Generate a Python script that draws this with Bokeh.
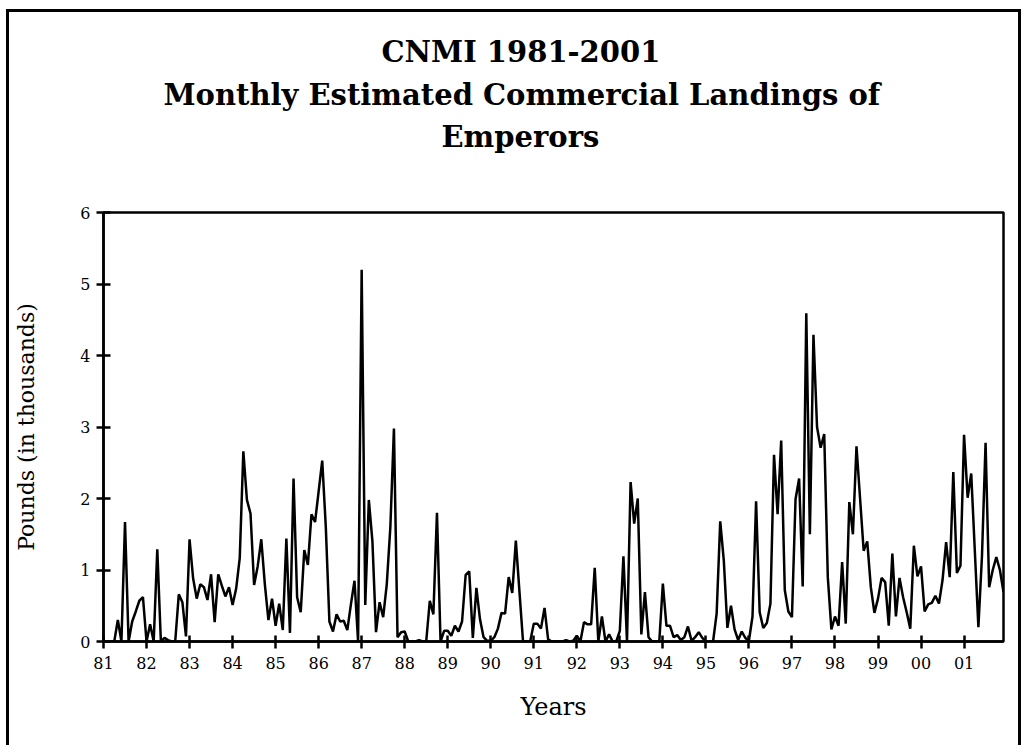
from bokeh.plotting import figure
from bokeh.models import Range1d, FixedTicker, Title
from bokeh.embed import file_html
from bokeh.resources import INLINE

# ---- data (thousands of pounds, monthly) ----
years = list(range(1981, 2002))
year_labels = ["81", "82", "83", "84", "85", "86", "87", "88", "89", "90",
               "91", "92", "93", "94", "95", "96", "97", "98", "99", "00", "01"]
y_ticks = [0, 1, 2, 3, 4, 5, 6]

m1981 = [0, 0, 0, 0, 0.3, 0, 1.67, 0, 0.28, 0.42, 0.57, 0.62]
m1982 = [0, 0.24, 0, 1.29, 0, 0.05, 0.02, 0, 0, 0.66, 0.55, 0.07]
m1983 = [1.43, 0.88, 0.6, 0.8, 0.76, 0.58, 0.94, 0.27, 0.94, 0.78, 0.63, 0.76]
m1984 = [0.51, 0.74, 1.17, 2.66, 1.98, 1.79, 0.79, 1.05, 1.43, 0.8, 0.3, 0.6]
m1985 = [0.22, 0.53, 0.16, 1.44, 0.12, 2.28, 0.62, 0.41, 1.28, 1.07, 1.78, 1.67]
m1986 = [2.1, 2.53, 1.6, 0.28, 0.14, 0.38, 0.28, 0.29, 0.16, 0.52, 0.85, 0]
m1987 = [5.2, 0.51, 1.98, 1.4, 0.13, 0.55, 0.34, 0.8, 1.6, 2.98, 0.06, 0.13]
m1988 = [0.14, 0, 0, 0, 0.02, 0, 0, 0.57, 0.38, 1.8, 0, 0.15]
m1989 = [0.15, 0.08, 0.22, 0.14, 0.28, 0.93, 0.98, 0.05, 0.75, 0.31, 0.06, 0.01]
m1990 = [0.01, 0.06, 0.18, 0.4, 0.39, 0.9, 0.68, 1.41, 0.7, 0, 0, 0]
m1991 = [0.25, 0.25, 0.18, 0.47, 0.03, 0, 0, 0, 0, 0.02, 0, 0.01]
m1992 = [0.08, 0, 0.27, 0.24, 0.24, 1.03, 0, 0.35, 0, 0.1, 0, 0]
m1993 = [0.15, 1.19, 0, 2.23, 1.65, 2.0, 0.1, 0.69, 0.06, 0, 0, 0]
m1994 = [0.81, 0.22, 0.22, 0.06, 0.09, 0.02, 0.06, 0.21, 0.01, 0.06, 0.13, 0.05]
m1995 = [0, 0, 0, 0.39, 1.68, 1.13, 0.19, 0.5, 0.17, 0.02, 0.14, 0.05]
m1996 = [0.01, 0.35, 1.96, 0.41, 0.19, 0.26, 0.53, 2.61, 1.78, 2.81, 0.72, 0.42]
m1997 = [0.34, 1.99, 2.28, 0.77, 4.59, 1.5, 4.29, 3.0, 2.71, 2.9, 0.9, 0.17]
m1998 = [0.35, 0.22, 1.11, 0.25, 1.95, 1.5, 2.73, 2.0, 1.27, 1.4, 0.76, 0.4]
m1999 = [0.6, 0.89, 0.83, 0.22, 1.23, 0.35, 0.89, 0.62, 0.41, 0.18, 1.34, 0.91]
m2000 = [1.05, 0.42, 0.52, 0.54, 0.64, 0.53, 0.86, 1.39, 0.9, 2.37, 0.96, 1.06]
m2001 = [2.89, 2.01, 2.35, 1.27, 0.2, 1.2, 2.78, 0.76, 1.0, 1.18, 1.0, 0.69]

landings = (m1981 + m1982 + m1983 + m1984 + m1985 + m1986 + m1987 + m1988 +
            m1989 + m1990 + m1991 + m1992 + m1993 + m1994 + m1995 + m1996 +
            m1997 + m1998 + m1999 + m2000 + m2001)
months = [1981 + i / 12 for i in range(len(landings))]

title_lines = ["CNMI 1981-2001", "Monthly Estimated Commercial Landings of", "Emperors"]

FONT = "DejaVu Serif"

p = figure(width=1015, height=736, output_backend="svg", toolbar_location=None,
           x_range=Range1d(1981, months[-1]), y_range=Range1d(0, 6),
           min_border_left=94, min_border_right=21,
           min_border_top=200, min_border_bottom=107)
p.styles = {"margin-left": "6px", "margin-top": "9px",
            "border-left": "3px solid black", "border-top": "3px solid black",
            "border-right": "3px solid black"}
p.xgrid.visible = False
p.ygrid.visible = False
p.background_fill_color = "white"
p.border_fill_color = "white"
p.outline_line_color = "black"
p.outline_line_width = 2.5
p.outline_line_alpha = 1.0

p.line(months, landings, line_color="black", line_width=2.5)

xa = p.xaxis[0]
xa.ticker = FixedTicker(ticks=years)
xa.major_label_overrides = {y: lab for y, lab in zip(years, year_labels)}
xa.minor_tick_line_color = None
xa.axis_line_width = 2.5
xa.major_tick_line_width = 2.5
xa.major_tick_in = 6
xa.major_tick_out = 7
xa.major_label_text_font = FONT
xa.major_label_text_font_size = "16px"
xa.major_label_text_color = "black"
xa.major_label_standoff = 8
xa.axis_label = "Years"
xa.axis_label_text_font = FONT
xa.axis_label_text_font_size = "24px"
xa.axis_label_text_font_style = "normal"
xa.axis_label_text_color = "black"
xa.axis_label_standoff = 21

ya = p.yaxis[0]
ya.ticker = FixedTicker(ticks=y_ticks)
ya.minor_tick_line_color = None
ya.axis_line_width = 2.5
ya.major_tick_line_width = 2.5
ya.major_tick_in = 7
ya.major_tick_out = 7
ya.major_label_text_font = FONT
ya.major_label_text_font_size = "16px"
ya.major_label_text_color = "black"
ya.major_label_standoff = 6
ya.axis_label = "Pounds (in thousands)"
ya.axis_label_text_font = FONT
ya.axis_label_text_font_size = "22px"
ya.axis_label_text_font_style = "normal"
ya.axis_label_text_color = "black"
ya.axis_label_standoff = 38

# spacer between plot frame and the title block (first added = nearest frame)
p.add_layout(Title(text=" ", text_font_size="10px", standoff=43), "above")
# title lines, left-aligned with offsets so each line is centred near x=519
title_offsets = [278, 60, 338]
title_standoffs = [8, 6, 6]
for txt, off, so in zip(reversed(title_lines), reversed(title_offsets),
                        reversed(title_standoffs)):
    p.add_layout(Title(text=txt, align="left", offset=off, standoff=so,
                       text_font=FONT, text_font_size="29px",
                       text_font_style="bold", text_color="black"), "above")

open("out.html", "w").write(file_html(p, INLINE))
